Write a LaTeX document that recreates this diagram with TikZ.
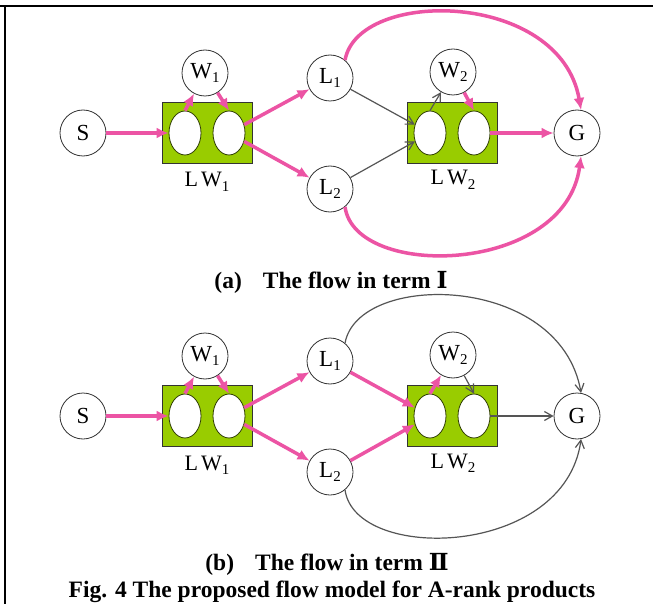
\documentclass[tikz,border=0pt]{standalone}
\usepackage{fontspec}
\setmainfont{Liberation Serif}
\newfontfamily\rnfont{DejaVu Serif}
\usetikzlibrary{arrows.meta,shapes.geometric}
\definecolor{pk}{RGB}{236,84,164}
\definecolor{lg}{RGB}{153,204,0}
\definecolor{dg}{RGB}{85,85,85}
\newcommand\sbs[1]{\raisebox{-0.4ex}{\fontsize{15}{15}\selectfont #1}}
\begin{document}
\begin{tikzpicture}[x=1pt,y=-1pt,
 circ/.style={circle,draw=black!80,line width=0.8pt,fill=white,minimum size=46pt,inner sep=0pt,font=\fontsize{23}{23}\selectfont},
 lwbox/.style={rectangle,draw=black!80,line width=0.8pt,fill=lg,minimum width=90pt,minimum height=61pt,inner sep=0pt},
 oval/.style={ellipse,draw=black!70!lg,line width=0.8pt,fill=white,minimum width=32pt,minimum height=44pt,inner sep=0pt},
 lab/.style={font=\fontsize{22}{22}\selectfont,inner sep=0pt,anchor=base},
 pa/.style={draw=pk,line width=3.5pt,-{Latex[length=12pt,width=11pt]}},
 ga/.style={draw=dg,line width=1.2pt,-{Straight Barb[length=8pt,width=9pt]}},
 captxt/.style={font=\fontsize{23.5}{23.5}\selectfont\bfseries,inner sep=0pt,anchor=base}
]
\fill[white] (0,0) rectangle (653,604);
\useasboundingbox (0,0) rectangle (653,604);
\draw[line width=2pt] (0,6) -- (653,6);
\draw[line width=2pt] (5,6) -- (5,604);

% ---------- panel (a)
\node[circ] (aS) at (83,133) {S};
\node[circ] (aW1) at (205,73) {W\sbs{1}};
\node[lwbox] (aB1) at (207,133) {};
\node[oval] (aO1l) at (185,133) {};
\node[oval] (aO1r) at (229,133) {};
\node[lab] (aLW1) at (207,187) {L\kern3pt W\sbs{1}};
\node[circ] (aL1) at (330,78) {L\sbs{1}};
\node[circ] (aL2) at (330,189) {L\sbs{2}};
\node[circ] (aW2) at (453,72) {W\sbs{2}};
\node[lwbox] (aB2) at (452,133) {};
\node[oval] (aO2l) at (430,133) {};
\node[oval] (aO2r) at (474,133) {};
\node[lab] (aLW2) at (453,185) {L\kern3pt W\sbs{2}};
\node[circ] (aG) at (577,133) {G};

\draw[pa] (aS) -- (aO1l);
\draw[pa] (aO1l.north) -- (aW1);
\draw[pa] (aW1) -- (aO1r.north);
\draw[pa] (aO1r) -- (aL1);
\draw[pa] (aO1r) -- (aL2);
\draw[ga] (aL1) -- (aO2l);
\draw[ga] (aL2) -- (aO2l);
\draw[ga] (aO2l.north) -- (aW2);
\draw[pa] (aW2) -- (aO2r.north);
\draw[pa] (aO2r) -- (aG);
\draw[pa] (aL1.50) .. controls (358,-12) and (560,-10) .. (aG.80);
\draw[pa] (aL2.-50) .. controls (355,280) and (565,275) .. (aG.-80);

\node[captxt] (capa) at (331,288) {(a)\hspace{0.9em}The flow in term {\rnfont Ⅰ}};

% ---------- panel (b)
\node[circ] (bS) at (83,416) {S};
\node[circ] (bW1) at (205,356) {W\sbs{1}};
\node[lwbox] (bB1) at (207,416) {};
\node[oval] (bO1l) at (185,416) {};
\node[oval] (bO1r) at (229,416) {};
\node[lab] (bLW1) at (207,470) {L\kern3pt W\sbs{1}};
\node[circ] (bL1) at (330,361) {L\sbs{1}};
\node[circ] (bL2) at (330,472) {L\sbs{2}};
\node[circ] (bW2) at (453,355) {W\sbs{2}};
\node[lwbox] (bB2) at (452,416) {};
\node[oval] (bO2l) at (430,416) {};
\node[oval] (bO2r) at (474,416) {};
\node[lab] (bLW2) at (453,468) {L\kern3pt W\sbs{2}};
\node[circ] (bG) at (577,416) {G};

\draw[pa] (bS) -- (bO1l);
\draw[pa] (bO1l.north) -- (bW1);
\draw[pa] (bW1) -- (bO1r.north);
\draw[pa] (bO1r) -- (bL1);
\draw[pa] (bO1r) -- (bL2);
\draw[pa] (bL1) -- (bO2l);
\draw[pa] (bL2) -- (bO2l);
\draw[pa] (bO2l.north) -- (bW2);
\draw[ga] (bW2) -- (bO2r.north);
\draw[ga] (bO2r) -- (bG);
\draw[ga] (bL1.50) .. controls (358,271) and (560,273) .. (bG.80);
\draw[ga] (bL2.-50) .. controls (355,563) and (565,558) .. (bG.-80);

\node[captxt] (capb) at (327,570) {(b)\hspace{0.9em}The flow in term {\rnfont Ⅱ}};
\node[captxt] (capf) at (332,597) {Fig. 4 The proposed flow model for A-rank products};
\end{tikzpicture}
\end{document}
